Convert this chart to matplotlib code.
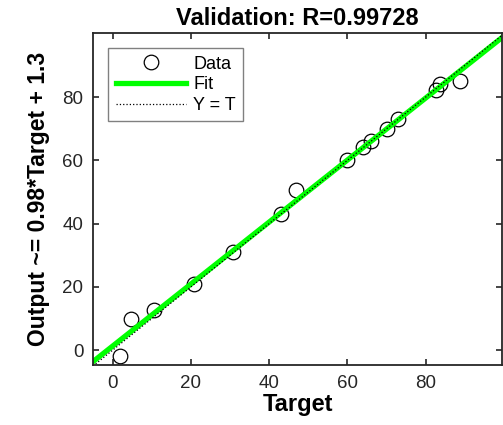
import numpy as np
import matplotlib.pyplot as plt

plt.rcParams['font.family'] = ['Liberation Sans', 'DejaVu Sans']

# validation set: targets vs network outputs
target = [1.8, 4.8, 10.7, 20.9, 30.8, 43.0, 46.8, 59.8, 63.9, 66.0, 70.0, 73.0, 82.7, 83.7, 88.8]
output = [-1.9, 9.8, 12.7, 20.9, 31.0, 43.0, 50.6, 60.1, 64.2, 66.1, 69.9, 73.1, 82.3, 84.2, 85.1]

slope = 0.98
intercept = 1.3
r_value = 0.99728

xlim = (-5.0, 99.5)
ylim = (-4.7, 100.2)
ticks = [0, 20, 40, 60, 80]

fig = plt.figure(figsize=(5.03, 4.25), dpi=100)
ax = fig.add_axes([0.185, 0.141, 0.813, 0.781])

xs = np.array(xlim)
ax.plot(target, output, 'o', mfc='none', mec='k', ms=10.5, mew=0.9, label='Data')
ax.plot(xs, slope * xs + intercept, color='#00ff00', lw=3.8, label='Fit')
ax.plot(xs, xs, ':', color='k', lw=0.9, label='Y = T')

ax.set_xlim(xlim)
ax.set_ylim(ylim)
ax.set_xticks(ticks)
ax.set_yticks(ticks)
ax.tick_params(direction='in', top=True, right=True, length=4, width=1.2,
               labelsize=13.5, colors='#262626', pad=7)
for s in ax.spines.values():
    s.set_linewidth(1.3)
    s.set_color('#262626')

ax.set_title(f'Validation: R={r_value}', fontsize=17, fontweight='bold', pad=6)
ax.set_xlabel('Target', fontsize=17, fontweight='bold', labelpad=1)
ax.set_ylabel(f'Output ~= {slope}*Target + {intercept}', fontsize=16.5,
              fontweight='bold', labelpad=9)

leg = ax.legend(loc='upper left', fontsize=13, fancybox=False, framealpha=1,
                edgecolor='#808080', borderaxespad=0.85, handlelength=3.9,
                handletextpad=0.4, labelspacing=0.2, borderpad=0.4)
leg.get_frame().set_linewidth(1.0)

plt.savefig('out.png', dpi=100)
